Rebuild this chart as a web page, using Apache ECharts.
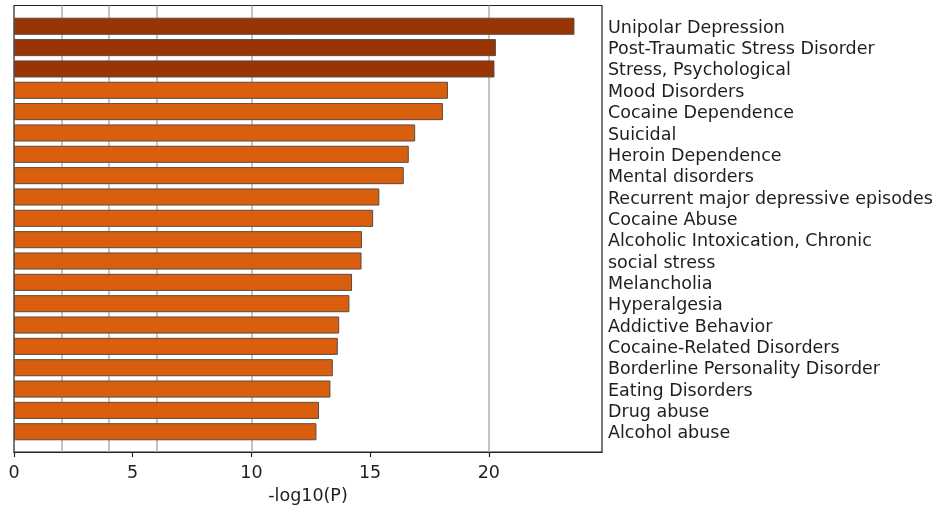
<!DOCTYPE html>
<html>
<head>
<meta charset="utf-8">
<script src="https://cdn.jsdelivr.net/npm/echarts@6/dist/echarts.min.js"></script>
<style>
  html, body { margin: 0; padding: 0; background: #ffffff; }
  #chart { width: 937px; height: 510px; }
</style>
</head>
<body>
<div id="chart"></div>
<script>
// Enriched disease / phenotype terms, top to bottom
const terms = [
  'Unipolar Depression',
  'Post-Traumatic Stress Disorder',
  'Stress, Psychological',
  'Mood Disorders',
  'Cocaine Dependence',
  'Suicidal',
  'Heroin Dependence',
  'Mental disorders',
  'Recurrent major depressive episodes',
  'Cocaine Abuse',
  'Alcoholic Intoxication, Chronic',
  'social stress',
  'Melancholia',
  'Hyperalgesia',
  'Addictive Behavior',
  'Cocaine-Related Disorders',
  'Borderline Personality Disorder',
  'Eating Disorders',
  'Drug abuse',
  'Alcohol abuse'
];

// -log10(P) for each term
const logP = [
  23.61, 20.30, 20.24, 18.28, 18.07, 16.90, 16.63, 16.42, 15.39, 15.13,
  14.66, 14.64, 14.24, 14.13, 13.70, 13.64, 13.43, 13.33, 12.85, 12.74
];

// x axis tick labels and reference grid lines (in -log10(P) units)
const xTicks = [0, 5, 10, 15, 20];
const refLines = [2, 4, 6, 10, 20];
const xMax = 24.77;

const TEXT = '#1e1e1e';
const FONT = 'DejaVu Sans';
const FONT_SIZE = 17.5;
const DARK = '#993404';
const ORANGE = '#d95f0e';

const chart = echarts.init(document.getElementById('chart'), null, { renderer: 'canvas' });

chart.setOption({
  animation: false,
  backgroundColor: '#ffffff',
  textStyle: { fontFamily: FONT },
  grid: [
    // frame with the x axis and reference lines
    { left: 14, top: 5.5, width: 588, height: 448, show: true,
      borderColor: '#222222', borderWidth: 1.2, backgroundColor: 'transparent' },
    // bar area, inset vertically inside the frame
    { left: 14, top: 15.6, width: 588, height: 426.8 }
  ],
  xAxis: [
    {
      gridIndex: 0, type: 'value', min: 0, max: xMax, interval: 5,
      splitLine: { show: false },
      axisLine: { show: true, lineStyle: { color: '#222222', width: 1.2 } },
      axisTick: { show: true, customValues: xTicks, length: 5,
                  lineStyle: { color: '#222222', width: 1.2 } },
      axisLabel: { customValues: xTicks, fontSize: FONT_SIZE, color: TEXT, margin: 12, fontFamily: FONT },
      name: '-log10(P)', nameLocation: 'middle', nameGap: 35,
      nameTextStyle: { fontSize: FONT_SIZE, color: TEXT, fontFamily: FONT }
    },
    { gridIndex: 1, type: 'value', min: 0, max: xMax, show: false }
  ],
  yAxis: [
    { gridIndex: 0, type: 'value', min: 0, max: 1, show: false },
    {
      gridIndex: 1, type: 'category', data: terms, inverse: true, position: 'right',
      axisLine: { show: false }, axisTick: { show: false }, splitLine: { show: false },
      axisLabel: {
        interval: 0, margin: 6,
        // term names sit slightly below the bar centre
        formatter: v => '{t|' + v + '}',
        rich: { t: { fontSize: FONT_SIZE, color: TEXT, fontFamily: FONT, padding: [4, 0, 0, 0] } }
      }
    }
  ],
  series: [
    {
      type: 'line', xAxisIndex: 0, yAxisIndex: 0, data: [], z: 1,
      markLine: {
        z: 1, silent: true, symbol: 'none', label: { show: false },
        lineStyle: { color: '#b0b0b0', width: 1.5, type: 'solid' },
        emphasis: { disabled: true },
        data: refLines.map(v => ({ xAxis: v }))
      }
    },
    {
      type: 'bar', xAxisIndex: 1, yAxisIndex: 1, z: 3,
      barWidth: '80%',
      itemStyle: { borderColor: '#5a4a42', borderWidth: 1 },
      data: logP.map(v => ({ value: v, itemStyle: { color: v >= 20 ? DARK : ORANGE } }))
    }
  ]
});
</script>
</body>
</html>
